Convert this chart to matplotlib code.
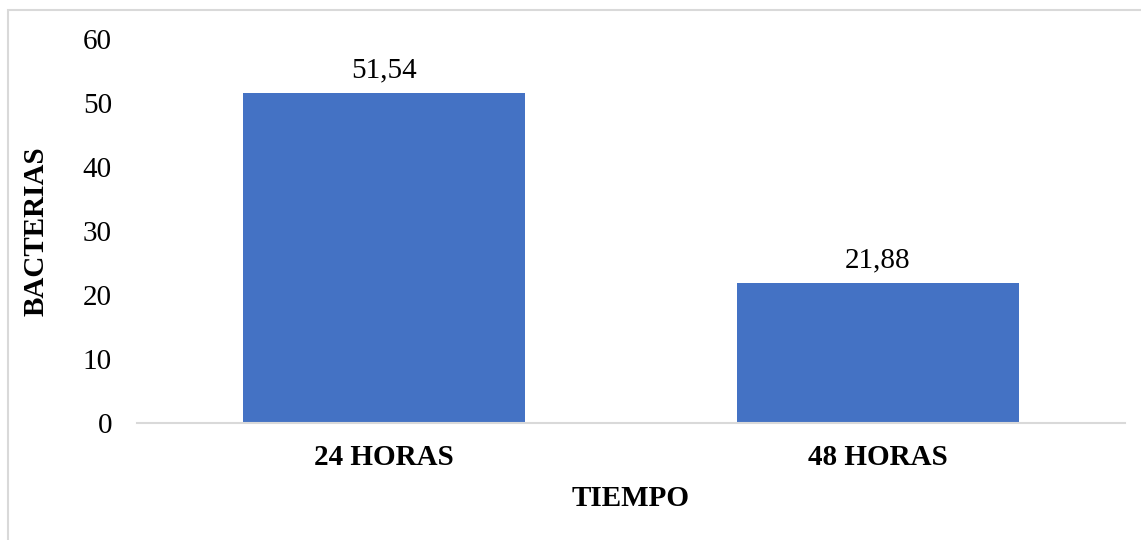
import matplotlib.pyplot as plt
from matplotlib.patches import Rectangle

categories = ["24 HORAS", "48 HORAS"]
values = [51.54, 21.88]
value_labels = ["51,54", "21,88"]

plt.rcParams['font.family'] = ['Liberation Serif', 'DejaVu Serif']

fig = plt.figure(figsize=(11.41, 5.4), dpi=100)
ax = fig.add_axes([0.120, 0.2167, 0.866, 0.711])

bars = ax.bar(range(len(categories)), values, width=0.57, color='#4472C4', zorder=2)
for b, lab in zip(bars, value_labels):
    ax.annotate(lab, (b.get_x() + b.get_width() / 2, b.get_height()),
                xytext=(0, 7), textcoords='offset points',
                ha='center', va='bottom', fontsize=21)

ax.set_xlim(-0.5, 1.5)
ax.set_ylim(0, 60)
ax.set_yticks(range(0, 61, 10))
ax.set_xticks(range(len(categories)))
ax.set_xticklabels(categories, fontsize=21, fontweight='bold')
ax.tick_params(axis='y', labelsize=21, length=0, pad=18)
ax.tick_params(axis='x', length=0, pad=15)

for s in ['top', 'right', 'left']:
    ax.spines[s].set_visible(False)
ax.spines['bottom'].set_color('#d9d9d9')
ax.spines['bottom'].set_linewidth(1.5)

ax.set_xlabel("TIEMPO", fontsize=21, fontweight='bold', labelpad=10)
ax.set_ylabel("BACTERIAS", fontsize=21, fontweight='bold', labelpad=24)

fig.patches.append(Rectangle((8 / 1141, -0.1), 1.2, 1.1 - 10 / 540,
                             transform=fig.transFigure, fill=False,
                             edgecolor='#d9d9d9', linewidth=1.5))

fig.savefig("out.png", dpi=100)
